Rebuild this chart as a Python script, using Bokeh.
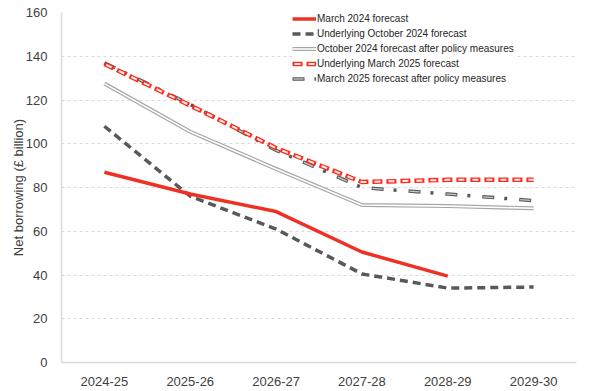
from bokeh.plotting import figure
from bokeh.models import FactorRange, Range1d, Legend, LegendItem, FixedTicker
from bokeh.embed import file_html
from bokeh.resources import INLINE

years = ["2024-25", "2025-26", "2026-27", "2027-28", "2028-29", "2029-30"]
march_2024 = [87, 77, 69, 50.5, 39.5]
underlying_oct_2024 = [108, 76, 61, 40.5, 34, 34.5]
oct_2024_after_policy = [127.5, 105.5, 88.5, 72, 71.5, 70.5]
underlying_mar_2025 = [136.5, 117.5, 98, 82.5, 83.5, 83.5]
mar_2025_after_policy = [137, 118, 97, 80, 77, 74]

FONT = "Liberation Sans"

p = figure(width=592, height=388, x_range=FactorRange(*years), y_range=Range1d(0, 160),
           output_backend="svg", toolbar_location=None,
           min_border_left=61, min_border_right=16, min_border_top=12, min_border_bottom=26)
p.outline_line_color = None
p.xgrid.grid_line_color = None
p.ygrid.grid_line_color = "#d9d9d9"
p.ygrid.grid_line_dash = "3 3"
p.yaxis.ticker = FixedTicker(ticks=list(range(0, 161, 20)))
for ax in (p.xaxis[0], p.yaxis[0]):
    ax.axis_line_color = "#d9d9d9"
    ax.axis_line_width = 1.5
    ax.major_tick_line_color = None
    ax.minor_tick_line_color = None
    ax.major_label_text_font = FONT
    ax.major_label_text_font_size = "13px"
    ax.major_label_text_color = "#404040"
p.xaxis.major_label_standoff = 8
p.yaxis.major_label_standoff = 8
p.yaxis.axis_label = "Net borrowing (£ billion)"
p.yaxis.axis_label_text_font = FONT
p.yaxis.axis_label_text_font_size = "13px"
p.yaxis.axis_label_text_font_style = "normal"
p.yaxis.axis_label_text_color = "#404040"
p.yaxis.axis_label_standoff = -3

# March 2025 after policy measures (gray dash-dot outlined)
r5a = p.line(years, mar_2025_after_policy, line_color="#595959", line_width=3.5, line_dash="12 10 3 12")
r5b = p.line(years, mar_2025_after_policy, line_color="#c8c8c8", line_width=1.3, line_dash="10 27",
             line_dash_offset=-1)
# Underlying March 2025 (red dashed outline)
r4a = p.line(years, underlying_mar_2025, line_color="#ff2a1a", line_width=4.5, line_dash="10 4")
r4b = p.line(years, underlying_mar_2025, line_color="#fff0ef", line_width=2, line_dash="6 8",
             line_dash_offset=-2)
# October 2024 after policy (double gray line)
r3a = p.line(years, oct_2024_after_policy, line_color="#a6a6a6", line_width=4)
r3b = p.line(years, oct_2024_after_policy, line_color="white", line_width=1.6)
# Underlying October 2024 (dark dashed)
r2 = p.line(years, underlying_oct_2024, line_color="#595959", line_width=3.5, line_dash="8 5")
# March 2024 forecast (red solid)
r1 = p.line(years[:len(march_2024)], march_2024, line_color="#ee3124", line_width=3.5)

legend = Legend(items=[
    LegendItem(label="March 2024 forecast", renderers=[r1]),
    LegendItem(label="Underlying October 2024 forecast", renderers=[r2]),
    LegendItem(label="October 2024 forecast after policy measures", renderers=[r3a, r3b]),
    LegendItem(label="Underlying March 2025 forecast", renderers=[r4a, r4b]),
    LegendItem(label="March 2025 forecast after policy measures", renderers=[r5a, r5b]),
], location=(231, 276), padding=0, spacing=0, margin=0, label_height=15, glyph_height=15,
    glyph_width=24, label_standoff=1, border_line_color=None, background_fill_color="white",
    label_text_font=FONT, label_text_font_size="10px", label_text_color="#262626")
p.add_layout(legend, "center")

open("out.html", "w").write(file_html(p, INLINE))
